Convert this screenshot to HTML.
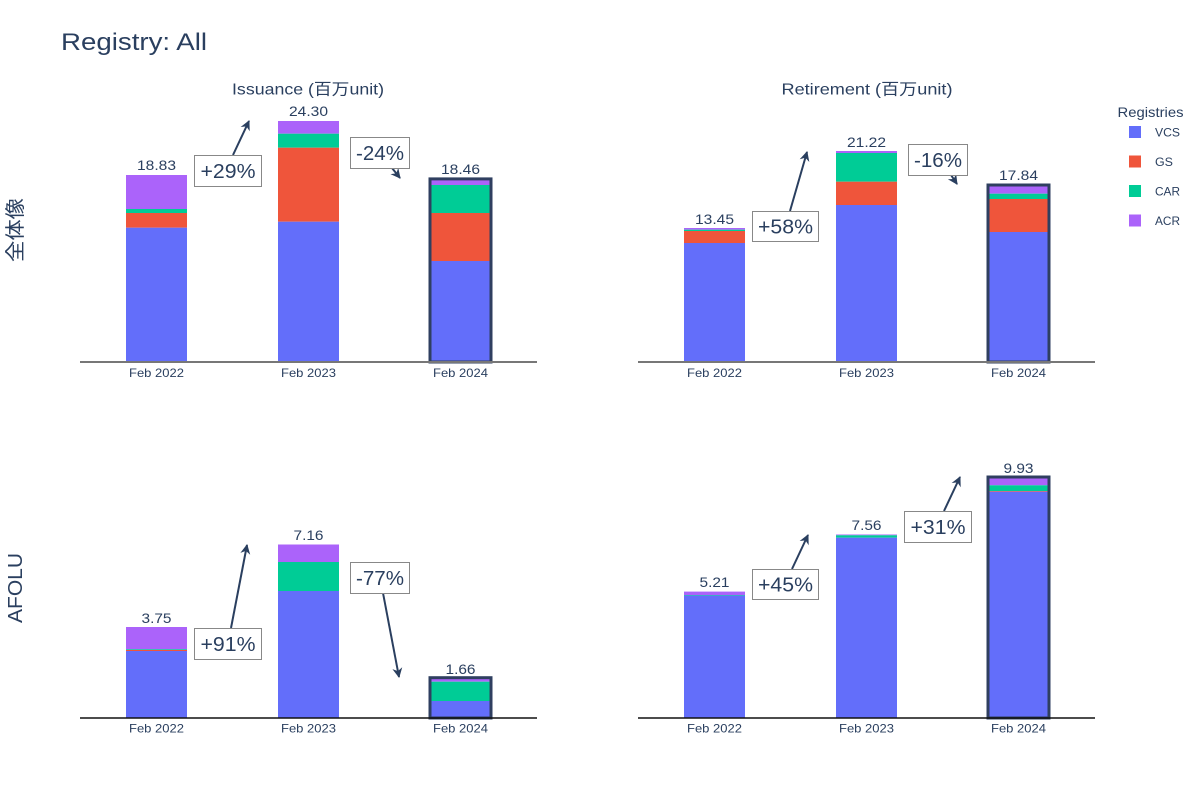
<!DOCTYPE html>
<html><head><meta charset="utf-8"><style>
html,body{margin:0;padding:0;background:#fff;}
svg{display:block;}
text{font-family:"Liberation Sans","Noto Sans CJK JP",sans-serif;fill:#2a3f5f;}
</style></head><body>
<svg width="1200" height="800" viewBox="0 0 1200 800" xmlns="http://www.w3.org/2000/svg">
<defs>
<marker id="ah" markerUnits="userSpaceOnUse" markerWidth="14" markerHeight="14" viewBox="-10 -7 14 14" refX="0" refY="0" orient="auto">
<path d="M-9,-5 L1,0 L-9,5 L-6,0 Z" fill="#2a3f5f"/>
</marker>
</defs>
<rect width="1200" height="800" fill="#fff"/>

<!-- Title -->
<text x="61" y="50" font-size="24" textLength="146" lengthAdjust="spacingAndGlyphs">Registry: All</text>

<!-- Subplot titles -->
<text x="308" y="94.5" font-size="16" text-anchor="middle" textLength="152" lengthAdjust="spacingAndGlyphs">Issuance (百万unit)</text>
<text x="867" y="94.5" font-size="16" text-anchor="middle" textLength="171" lengthAdjust="spacingAndGlyphs">Retirement (百万unit)</text>

<!-- Y labels -->
<text transform="translate(22,230) rotate(-90)" font-size="20" text-anchor="middle" textLength="64" lengthAdjust="spacingAndGlyphs">全体像</text>
<text transform="translate(22,588) rotate(-90)" font-size="20" text-anchor="middle" textLength="70" lengthAdjust="spacingAndGlyphs">AFOLU</text>

<!-- ===== Top-left ===== -->
<g>
<rect x="126" y="175" width="61" height="34" fill="#ab63fa"/>
<rect x="126" y="209" width="61" height="4" fill="#00cc96"/>
<rect x="126" y="213" width="61" height="14.7" fill="#EF553B"/>
<rect x="126" y="227.7" width="61" height="134.3" fill="#636efa"/>

<rect x="278" y="121" width="61" height="12.7" fill="#ab63fa"/>
<rect x="278" y="133.7" width="61" height="14" fill="#00cc96"/>
<rect x="278" y="147.7" width="61" height="74" fill="#EF553B"/>
<rect x="278" y="221.7" width="61" height="140.3" fill="#636efa"/>

<rect x="430" y="178.9" width="61" height="6.1" fill="#ab63fa"/>
<rect x="430" y="185" width="61" height="28" fill="#00cc96"/>
<rect x="430" y="213" width="61" height="48" fill="#EF553B"/>
<rect x="430" y="261" width="61" height="101" fill="#636efa"/>
<rect x="430" y="178.9" width="61" height="183.1" fill="none" stroke="#2f3f60" stroke-width="3"/>

<line x1="80" y1="362" x2="537" y2="362" stroke="#777" stroke-width="2"/>

<text x="156.5" y="170" font-size="14" text-anchor="middle" textLength="39" lengthAdjust="spacingAndGlyphs">18.83</text>
<text x="308.5" y="116" font-size="14" text-anchor="middle" textLength="39" lengthAdjust="spacingAndGlyphs">24.30</text>
<text x="460.5" y="174" font-size="14" text-anchor="middle" textLength="39" lengthAdjust="spacingAndGlyphs">18.46</text>

<text x="156.5" y="377" font-size="12" text-anchor="middle" textLength="55" lengthAdjust="spacingAndGlyphs">Feb 2022</text>
<text x="308.5" y="377" font-size="12" text-anchor="middle" textLength="55" lengthAdjust="spacingAndGlyphs">Feb 2023</text>
<text x="460.5" y="377" font-size="12" text-anchor="middle" textLength="55" lengthAdjust="spacingAndGlyphs">Feb 2024</text>

<line x1="233" y1="155" x2="249" y2="121" stroke="#2a3f5f" stroke-width="2" marker-end="url(#ah)"/>
<rect x="194.5" y="155.5" width="67" height="31" fill="#fff" stroke="#888" stroke-width="1"/>
<text x="228" y="178" font-size="20" text-anchor="middle" textLength="55" lengthAdjust="spacingAndGlyphs">+29%</text>

<line x1="392" y1="168" x2="400" y2="178" stroke="#2a3f5f" stroke-width="2" marker-end="url(#ah)"/>
<rect x="350.5" y="137.5" width="59" height="31" fill="#fff" stroke="#888" stroke-width="1"/>
<text x="380" y="160" font-size="20" text-anchor="middle" textLength="48" lengthAdjust="spacingAndGlyphs">-24%</text>
</g>

<!-- ===== Top-right ===== -->
<g>
<rect x="684" y="228" width="61" height="1.7" fill="#ab63fa"/>
<rect x="684" y="229.7" width="61" height="1.3" fill="#00cc96"/>
<rect x="684" y="231" width="61" height="12" fill="#EF553B"/>
<rect x="684" y="243" width="61" height="119" fill="#636efa"/>

<rect x="836" y="151" width="61" height="2" fill="#ab63fa"/>
<rect x="836" y="153" width="61" height="28.7" fill="#00cc96"/>
<rect x="836" y="181.7" width="61" height="23.3" fill="#EF553B"/>
<rect x="836" y="205" width="61" height="157" fill="#636efa"/>

<rect x="988" y="185" width="61" height="8.7" fill="#ab63fa"/>
<rect x="988" y="193.7" width="61" height="5.3" fill="#00cc96"/>
<rect x="988" y="199" width="61" height="33" fill="#EF553B"/>
<rect x="988" y="232" width="61" height="130" fill="#636efa"/>
<rect x="988" y="185" width="61" height="177" fill="none" stroke="#2f3f60" stroke-width="3"/>

<line x1="638" y1="362" x2="1095" y2="362" stroke="#777" stroke-width="2"/>

<text x="714.5" y="224" font-size="14" text-anchor="middle" textLength="39" lengthAdjust="spacingAndGlyphs">13.45</text>
<text x="866.5" y="147" font-size="14" text-anchor="middle" textLength="39" lengthAdjust="spacingAndGlyphs">21.22</text>
<text x="1018.5" y="180" font-size="14" text-anchor="middle" textLength="39" lengthAdjust="spacingAndGlyphs">17.84</text>

<text x="714.5" y="377" font-size="12" text-anchor="middle" textLength="55" lengthAdjust="spacingAndGlyphs">Feb 2022</text>
<text x="866.5" y="377" font-size="12" text-anchor="middle" textLength="55" lengthAdjust="spacingAndGlyphs">Feb 2023</text>
<text x="1018.5" y="377" font-size="12" text-anchor="middle" textLength="55" lengthAdjust="spacingAndGlyphs">Feb 2024</text>

<line x1="790" y1="211" x2="807" y2="152" stroke="#2a3f5f" stroke-width="2" marker-end="url(#ah)"/>
<rect x="752.5" y="211.5" width="66" height="30" fill="#fff" stroke="#888" stroke-width="1"/>
<text x="785.5" y="233.5" font-size="20" text-anchor="middle" textLength="55" lengthAdjust="spacingAndGlyphs">+58%</text>

<line x1="951" y1="175" x2="957" y2="184" stroke="#2a3f5f" stroke-width="2" marker-end="url(#ah)"/>
<rect x="908.5" y="144.5" width="59" height="31" fill="#fff" stroke="#888" stroke-width="1"/>
<text x="938" y="167" font-size="20" text-anchor="middle" textLength="48" lengthAdjust="spacingAndGlyphs">-16%</text>
</g>

<!-- ===== Bottom-left ===== -->
<g>
<rect x="126" y="627" width="61" height="22.3" fill="#ab63fa"/>
<rect x="126" y="649.3" width="61" height="0.7" fill="#00cc96"/>
<rect x="126" y="650" width="61" height="1" fill="#EF553B"/>
<rect x="126" y="651" width="61" height="67" fill="#636efa"/>

<rect x="278" y="544.5" width="61" height="17.5" fill="#ab63fa"/>
<rect x="278" y="562" width="61" height="29" fill="#00cc96"/>
<rect x="278" y="591" width="61" height="127" fill="#636efa"/>

<rect x="430" y="677.7" width="61" height="4" fill="#ab63fa"/>
<rect x="430" y="681.7" width="61" height="19.3" fill="#00cc96"/>
<rect x="430" y="701" width="61" height="17" fill="#636efa"/>
<rect x="430" y="677.7" width="61" height="40.3" fill="none" stroke="#2f3f60" stroke-width="3"/>

<line x1="80" y1="718" x2="537" y2="718" stroke="#111" stroke-width="1.5"/>

<text x="156.5" y="623" font-size="14" text-anchor="middle" textLength="30" lengthAdjust="spacingAndGlyphs">3.75</text>
<text x="308.5" y="540" font-size="14" text-anchor="middle" textLength="30" lengthAdjust="spacingAndGlyphs">7.16</text>
<text x="460.5" y="674" font-size="14" text-anchor="middle" textLength="30" lengthAdjust="spacingAndGlyphs">1.66</text>

<text x="156.5" y="732.5" font-size="12" text-anchor="middle" textLength="55" lengthAdjust="spacingAndGlyphs">Feb 2022</text>
<text x="308.5" y="732.5" font-size="12" text-anchor="middle" textLength="55" lengthAdjust="spacingAndGlyphs">Feb 2023</text>
<text x="460.5" y="732.5" font-size="12" text-anchor="middle" textLength="55" lengthAdjust="spacingAndGlyphs">Feb 2024</text>

<line x1="231" y1="628" x2="247" y2="545" stroke="#2a3f5f" stroke-width="2" marker-end="url(#ah)"/>
<rect x="194.5" y="628.5" width="67" height="31" fill="#fff" stroke="#888" stroke-width="1"/>
<text x="228" y="651" font-size="20" text-anchor="middle" textLength="55" lengthAdjust="spacingAndGlyphs">+91%</text>

<line x1="383" y1="593" x2="399" y2="677" stroke="#2a3f5f" stroke-width="2" marker-end="url(#ah)"/>
<rect x="350.5" y="562.5" width="59" height="31" fill="#fff" stroke="#888" stroke-width="1"/>
<text x="380" y="585" font-size="20" text-anchor="middle" textLength="48" lengthAdjust="spacingAndGlyphs">-77%</text>
</g>

<!-- ===== Bottom-right ===== -->
<g>
<rect x="684" y="591.6" width="61" height="3.4" fill="#ab63fa"/>
<rect x="684" y="595" width="61" height="0.6" fill="#00cc96"/>
<rect x="684" y="595.6" width="61" height="122.4" fill="#636efa"/>

<rect x="836" y="534.5" width="61" height="0.8" fill="#ab63fa"/>
<rect x="836" y="535.3" width="61" height="2.4" fill="#00cc96"/>
<rect x="836" y="537.7" width="61" height="180.3" fill="#636efa"/>

<rect x="988" y="477" width="61" height="8.3" fill="#ab63fa"/>
<rect x="988" y="485.3" width="61" height="5.7" fill="#00cc96"/>
<rect x="988" y="491" width="61" height="0.7" fill="#EF553B"/>
<rect x="988" y="491.7" width="61" height="226.3" fill="#636efa"/>
<rect x="988" y="477" width="61" height="241" fill="none" stroke="#2f3f60" stroke-width="3"/>

<line x1="638" y1="718" x2="1095" y2="718" stroke="#111" stroke-width="1.5"/>

<text x="714.5" y="587" font-size="14" text-anchor="middle" textLength="30" lengthAdjust="spacingAndGlyphs">5.21</text>
<text x="866.5" y="530" font-size="14" text-anchor="middle" textLength="30" lengthAdjust="spacingAndGlyphs">7.56</text>
<text x="1018.5" y="473" font-size="14" text-anchor="middle" textLength="30" lengthAdjust="spacingAndGlyphs">9.93</text>

<text x="714.5" y="732.5" font-size="12" text-anchor="middle" textLength="55" lengthAdjust="spacingAndGlyphs">Feb 2022</text>
<text x="866.5" y="732.5" font-size="12" text-anchor="middle" textLength="55" lengthAdjust="spacingAndGlyphs">Feb 2023</text>
<text x="1018.5" y="732.5" font-size="12" text-anchor="middle" textLength="55" lengthAdjust="spacingAndGlyphs">Feb 2024</text>

<line x1="792" y1="569" x2="808" y2="535" stroke="#2a3f5f" stroke-width="2" marker-end="url(#ah)"/>
<rect x="752.5" y="569.5" width="66" height="30" fill="#fff" stroke="#888" stroke-width="1"/>
<text x="785.5" y="591.5" font-size="20" text-anchor="middle" textLength="55" lengthAdjust="spacingAndGlyphs">+45%</text>

<line x1="944" y1="511" x2="960" y2="477" stroke="#2a3f5f" stroke-width="2" marker-end="url(#ah)"/>
<rect x="904.5" y="511.5" width="67" height="31" fill="#fff" stroke="#888" stroke-width="1"/>
<text x="938" y="534" font-size="20" text-anchor="middle" textLength="55" lengthAdjust="spacingAndGlyphs">+31%</text>
</g>

<!-- Legend -->
<text x="1117.5" y="117" font-size="14" textLength="66" lengthAdjust="spacingAndGlyphs">Registries</text>
<rect x="1129" y="126" width="12" height="12" fill="#636efa"/>
<text x="1155" y="136.5" font-size="12" textLength="25" lengthAdjust="spacingAndGlyphs">VCS</text>
<rect x="1129" y="155.5" width="12" height="12" fill="#EF553B"/>
<text x="1155" y="166" font-size="12" textLength="18" lengthAdjust="spacingAndGlyphs">GS</text>
<rect x="1129" y="185" width="12" height="12" fill="#00cc96"/>
<text x="1155" y="195.5" font-size="12" textLength="25" lengthAdjust="spacingAndGlyphs">CAR</text>
<rect x="1129" y="214.5" width="12" height="12" fill="#ab63fa"/>
<text x="1155" y="225" font-size="12" textLength="25" lengthAdjust="spacingAndGlyphs">ACR</text>
</svg>
</body></html>
